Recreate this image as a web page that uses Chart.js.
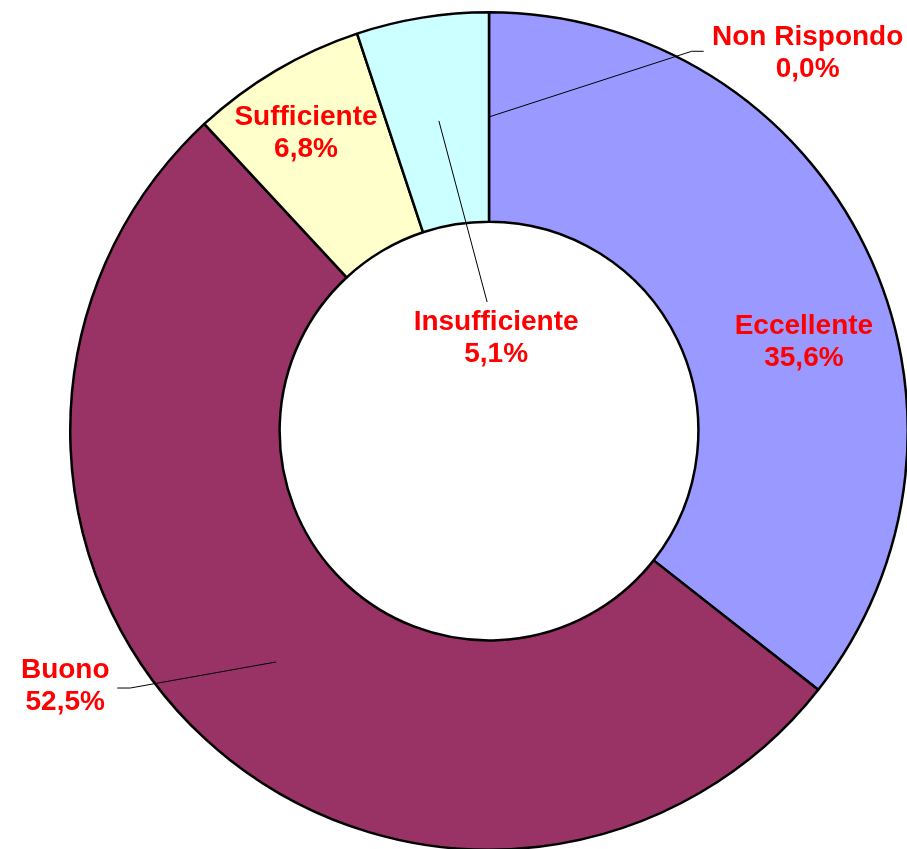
<!DOCTYPE html>
<html>
<head>
<meta charset="utf-8">
<script src="https://cdn.jsdelivr.net/npm/chart.js@4.4.0/dist/chart.umd.min.js"></script>
<style>
  html, body { margin: 0; padding: 0; background: #fff; overflow: hidden; }
  #wrap { position: absolute; left: 0; top: 0; width: 910px; height: 851px; }
</style>
</head>
<body>
<div id="wrap"><canvas id="donut" width="910" height="851"></canvas></div>
<script>
const categories = ['Non Rispondo', 'Eccellente', 'Buono', 'Sufficiente', 'Insufficiente'];
const percentages = [0.0, 35.6, 52.5, 6.8, 5.1];
const sliceColors = ['#FFFFFF', '#9999FF', '#993366', '#FFFFCC', '#CCFFFF'];

// label placement, in units of the outer radius from the centre (x, y),
// plus an optional leader line start (pixel offset from label centre) and elbow
const labelPlacement = [
    { x: 0.761, y: -0.902, leader: { dx: -104, dy: -2, elbow: -12 } },
    { x: 0.752, y: -0.212 },
    { x: -1.012, y: 0.609, leader: { dx: 52, dy: 2, elbow: 13 } },
    { x: -0.437, y: -0.711 },
    { x: 0.017, y: -0.222, leader: { dx: -9, dy: -36, elbow: 0 } }
];

function fmtPct(v) {
    return v.toFixed(1).replace('.', ',') + '%';
}

const labelPlugin = {
    id: 'sliceLabels',
    afterDraw(chart) {
        const ctx = chart.ctx;
        const meta = chart.getDatasetMeta(0);
        ctx.save();
        meta.data.forEach((arc, i) => {
            const p = arc.getProps(['x', 'y', 'startAngle', 'endAngle', 'innerRadius', 'outerRadius'], true);
            const R = p.outerRadius;
            const place = labelPlacement[i];
            const lx = p.x + place.x * R;
            const ly = p.y + place.y * R;

            if (place.leader) {
                const mid = (p.startAngle + p.endAngle) / 2;
                const mr = (p.innerRadius + p.outerRadius) / 2;
                const tx = p.x + Math.cos(mid) * mr;
                const ty = p.y + Math.sin(mid) * mr;
                const sx = lx + place.leader.dx;
                const sy = ly + place.leader.dy;
                ctx.beginPath();
                ctx.strokeStyle = '#000';
                ctx.lineWidth = 1;
                ctx.moveTo(sx, sy);
                ctx.lineTo(sx + place.leader.elbow, sy);
                ctx.lineTo(tx, ty);
                ctx.stroke();
            }

            ctx.fillStyle = '#FF0000';
            ctx.font = 'bold 28px "Liberation Sans", Arial, sans-serif';
            ctx.textAlign = 'center';
            ctx.textBaseline = 'middle';
            ctx.fillText(categories[i], lx, ly - 16);
            ctx.fillText(fmtPct(percentages[i]), lx, ly + 16);
        });
        ctx.restore();
    }
};

new Chart(document.getElementById('donut').getContext('2d'), {
    type: 'doughnut',
    data: {
        labels: categories,
        datasets: [{
            data: percentages,
            backgroundColor: sliceColors,
            borderColor: '#000000',
            borderWidth: 2.5
        }]
    },
    options: {
        responsive: false,
        animation: false,
        cutout: '50%',
        layout: { padding: { left: 69, top: 11, right: 1, bottom: 0 } },
        plugins: {
            legend: { display: false },
            tooltip: { enabled: false }
        }
    },
    plugins: [labelPlugin]
});
</script>
</body>
</html>
